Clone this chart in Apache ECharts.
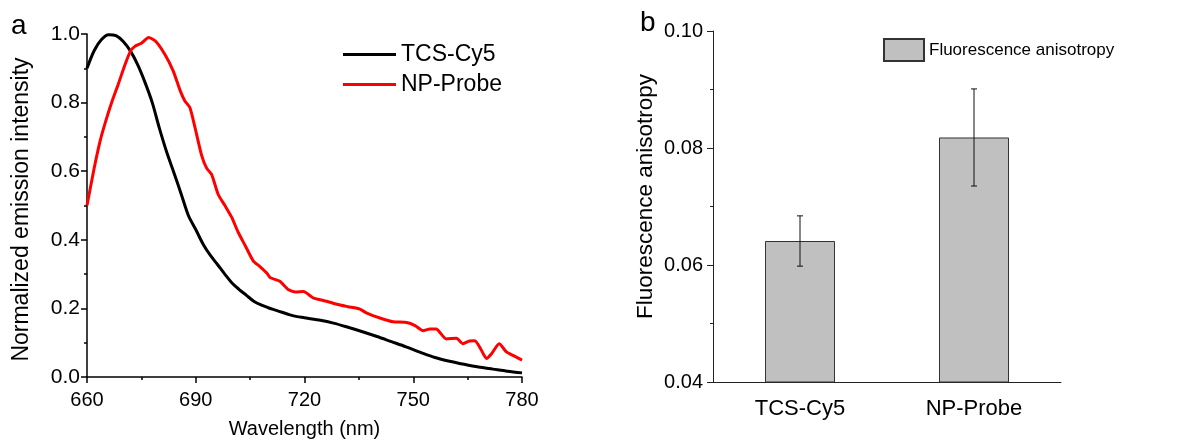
<!DOCTYPE html>
<html>
<head>
<meta charset="utf-8">
<script src="https://cdn.jsdelivr.net/npm/echarts@6/dist/echarts.min.js"></script>
<style>
  html, body { margin: 0; padding: 0; background: #fff; }
  #chart { width: 1193px; height: 444px; }
</style>
</head>
<body>
<div id="chart"></div>
<script>
// panel a: normalized emission spectra
const tcsWl = [660, 662, 664, 666, 668, 670, 672, 674, 676, 678, 680, 682, 684, 686, 688, 690, 692, 694, 696, 698,
  700, 702, 704, 706, 708, 710, 712, 714, 716, 718, 720, 724, 728, 732, 736, 740, 744, 748, 752, 756,
  760, 764, 768, 772, 776, 780];
const tcsCy5 = [0.90, 0.952, 0.984, 0.998, 0.995, 0.978, 0.95, 0.91, 0.859, 0.80, 0.724, 0.655, 0.595, 0.533, 0.47, 0.43, 0.388, 0.355, 0.328, 0.30,
  0.274, 0.255, 0.238, 0.221, 0.21, 0.202, 0.195, 0.188, 0.181, 0.176, 0.173, 0.166, 0.157, 0.145, 0.132, 0.118, 0.103, 0.088, 0.072, 0.057,
  0.046, 0.037, 0.029, 0.023, 0.017, 0.012];

const npWl = [660, 662, 663.6, 665, 666.8, 668.6, 670.5, 672, 673.2, 675, 677, 679, 681.5, 683.8, 685.7, 687, 688.4, 689.8, 691.6, 693,
  694.4, 696.2, 698.1, 699.9, 701.7, 703.6, 705.9, 707.7, 709.6, 710.5, 713.2, 715.5, 717.5, 719.7, 722.4, 726.1, 728.9, 732, 735.3, 737.2,
  740.8, 744.4, 748.2, 750.5, 752.7, 754.6, 756.3, 759.1, 761.9, 763.7, 765.5, 767, 768.8, 770.2, 771.6, 773.7, 775.7, 777.5, 780];
const npProbe = [0.50, 0.61, 0.687, 0.74, 0.80, 0.853, 0.911, 0.95, 0.964, 0.973, 0.99, 0.978, 0.94, 0.892, 0.835, 0.805, 0.785, 0.727, 0.647, 0.609,
  0.59, 0.532, 0.499, 0.466, 0.422, 0.384, 0.338, 0.322, 0.303, 0.29, 0.279, 0.255, 0.248, 0.249, 0.231, 0.221, 0.212, 0.205, 0.198, 0.186,
  0.172, 0.161, 0.159, 0.15, 0.135, 0.14, 0.14, 0.111, 0.113, 0.097, 0.105, 0.106, 0.078, 0.054, 0.068, 0.097, 0.073, 0.063, 0.049];

// panel b: fluorescence anisotropy
const samples = ['TCS-Cy5', 'NP-Probe'];
const anisotropy = [0.0641, 0.0818];
const anisotropyErr = [0.0043, 0.0083];

const font = 'Liberation Sans, Arial, sans-serif';

function pairs (xs, ys) {
  return xs.map((x, i) => [x, ys[i]]);
}

let chart = echarts.init(document.getElementById('chart'), null, { renderer: 'canvas' });

let option = {
  animation: false,
  backgroundColor: '#fff',
  textStyle: { fontFamily: font, color: '#000' },
  graphic: [
    { type: 'text', left: 11, top: 12, style: { text: 'a', font: '28px ' + font, fill: '#000' } },
    { type: 'text', left: 640, top: 9, style: { text: 'b', font: '28px ' + font, fill: '#000' } }
  ],
  legend: [{
    data: ['TCS-Cy5', 'NP-Probe'],
    orient: 'vertical',
    left: 338,
    top: 38,
    icon: 'rect',
    itemWidth: 53,
    itemHeight: 3,
    itemGap: 7,
    textStyle: { fontSize: 23, fontFamily: font, color: '#000' }
  }, {
    data: ['Fluorescence anisotropy'],
    left: 878,
    top: 33,
    itemWidth: 40,
    itemHeight: 22,
    icon: 'rect',
    textStyle: { fontSize: 17, fontFamily: font, color: '#000' }
  }],
  grid: [
    { left: 87, top: 34, width: 435, height: 348 },
    { left: 713, top: 31, width: 348, height: 351 }
  ],
  xAxis: [{
    type: 'value',
    gridIndex: 0,
    min: 660,
    max: 780,
    interval: 30,
    name: 'Wavelength (nm)',
    nameLocation: 'middle',
    nameGap: 42,
    nameTextStyle: { fontSize: 20, fontFamily: font, color: '#000' },
    axisLine: { lineStyle: { color: '#000', width: 1.5 } },
    axisTick: { length: 6, lineStyle: { color: '#000', width: 1.5 } },
    minorTick: { show: true, splitNumber: 2, length: 3, lineStyle: { color: '#000', width: 1.5 } },
    axisLabel: { fontSize: 20, color: '#000', margin: 13, fontFamily: font },
    splitLine: { show: false }
  }, {
    type: 'category',
    gridIndex: 1,
    data: samples,
    position: 'bottom',
    axisLine: { lineStyle: { color: '#222', width: 1 } },
    axisTick: { alignWithLabel: true, length: 6, lineStyle: { color: '#222' } },
    axisLabel: { fontSize: 22, color: '#000', margin: 16, fontFamily: font }
  }, {
    type: 'category',
    gridIndex: 1,
    data: samples,
    position: 'bottom',
    axisLine: { show: false },
    axisTick: { length: 3, lineStyle: { color: '#222' } },
    axisLabel: { show: false }
  }],
  yAxis: [{
    type: 'value',
    gridIndex: 0,
    min: 0,
    max: 1,
    interval: 0.2,
    name: 'Normalized emission intensity',
    nameLocation: 'middle',
    nameGap: 54,
    nameTextStyle: { fontSize: 23, fontFamily: font, color: '#000', padding: [0, 8, 0, 0] },
    axisLine: { show: true, lineStyle: { color: '#000', width: 1.5 } },
    axisTick: { show: true, length: 6, lineStyle: { color: '#000', width: 1.5 } },
    minorTick: { show: true, splitNumber: 2, length: 3, lineStyle: { color: '#000', width: 1.5 } },
    axisLabel: { fontSize: 21, color: '#000', margin: 7, fontFamily: font, formatter: v => v.toFixed(1) },
    splitLine: { show: false }
  }, {
    type: 'value',
    gridIndex: 1,
    min: 0.04,
    max: 0.10,
    interval: 0.02,
    name: 'Fluorescence anisotropy',
    nameLocation: 'middle',
    nameGap: 56,
    nameTextStyle: { fontSize: 22.5, fontFamily: font, color: '#000', padding: [0, 0, 0, 20] },
    axisLine: { show: true, lineStyle: { color: '#222', width: 1 } },
    axisTick: { show: true, length: 6, lineStyle: { color: '#222' } },
    minorTick: { show: true, splitNumber: 2, length: 3, lineStyle: { color: '#222' } },
    axisLabel: { fontSize: 20, color: '#000', margin: 10, fontFamily: font, formatter: v => v.toFixed(2) },
    splitLine: { show: false }
  }],
  series: [{
    name: 'TCS-Cy5',
    type: 'line',
    xAxisIndex: 0,
    yAxisIndex: 0,
    data: pairs(tcsWl, tcsCy5),
    smooth: 0.3,
    symbol: 'none',
    lineStyle: { color: '#000', width: 3 },
    itemStyle: { color: '#000' }
  }, {
    name: 'NP-Probe',
    type: 'line',
    xAxisIndex: 0,
    yAxisIndex: 0,
    data: pairs(npWl, npProbe),
    smooth: 0.2,
    symbol: 'none',
    lineStyle: { color: '#ff0000', width: 3 },
    itemStyle: { color: '#ff0000' }
  }, {
    name: 'Fluorescence anisotropy',
    type: 'bar',
    xAxisIndex: 1,
    yAxisIndex: 1,
    data: anisotropy,
    barWidth: 70,
    itemStyle: { color: '#c0c0c0', borderColor: '#333', borderWidth: 1 }
  }, {
    name: 'err',
    type: 'custom',
    xAxisIndex: 1,
    yAxisIndex: 1,
    z: 5,
    data: anisotropy.map((v, i) => [i, v - anisotropyErr[i], v + anisotropyErr[i]]),
    renderItem (params, api) {
      let lo = api.coord([api.value(0), api.value(1)]);
      let hi = api.coord([api.value(0), api.value(2)]);
      let cap = 3;
      let st = { stroke: '#111', lineWidth: 1 };
      return {
        type: 'group',
        children: [
          { type: 'line', shape: { x1: lo[0], y1: lo[1], x2: hi[0], y2: hi[1] }, style: st },
          { type: 'line', shape: { x1: hi[0] - cap, y1: hi[1], x2: hi[0] + cap, y2: hi[1] }, style: st },
          { type: 'line', shape: { x1: lo[0] - cap, y1: lo[1], x2: lo[0] + cap, y2: lo[1] }, style: st }
        ]
      };
    }
  }]
};

chart.setOption(option);
</script>
</body>
</html>
